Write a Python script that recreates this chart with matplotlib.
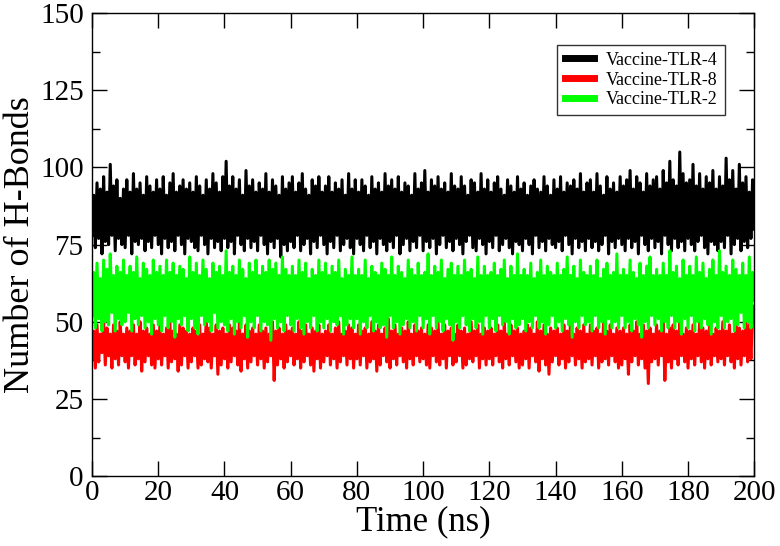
import numpy as np
import matplotlib
matplotlib.use("Agg")
import matplotlib.pyplot as plt
from matplotlib.ticker import MultipleLocator

# H-bond counts, one value every 0.5 ns
tlr4 = [
    78,91,74,95,77,93,72,97,76,92,75,101,78,94,73,96,77,90,75,93,
    74,96,78,92,72,98,76,93,75,95,77,91,73,97,76,94,74,92,78,96,
    75,93,72,97,77,91,74,95,76,98,73,92,78,94,75,96,72,93,77,95,
    76,92,74,97,73,94,78,91,75,96,72,93,77,98,74,95,76,92,73,97,
    77,102,74,94,76,97,72,93,78,96,75,91,73,99,77,94,74,96,76,92,
    73,95,78,93,75,98,72,92,76,96,74,94,77,91,71,97,75,93,73,95,
    76,97,74,92,78,95,73,98,75,93,77,91,72,96,76,94,74,97,78,92,
    75,94,72,97,76,92,74,95,78,93,73,96,75,91,77,98,74,93,72,96,
    77,92,75,96,73,94,78,91,74,97,76,93,72,95,77,92,75,98,73,94,
    76,96,74,93,78,97,72,92,75,95,77,94,73,91,76,98,74,93,78,95,
    73,99,76,92,74,96,77,94,72,97,75,93,78,95,74,92,76,98,73,94,
    77,93,75,97,72,94,76,91,78,96,74,95,73,92,77,98,75,93,72,96,
    76,92,74,95,78,97,73,93,75,91,77,96,74,94,72,92,76,97,75,93,
    73,95,77,91,75,94,72,96,78,93,74,92,76,97,73,94,77,91,75,96,
    74,93,76,97,73,92,78,95,75,94,72,96,77,93,74,98,76,92,73,95,
    77,96,74,92,76,98,73,94,75,91,78,97,72,93,76,95,74,92,77,97,
    75,94,73,96,77,99,74,93,76,97,72,95,78,92,75,98,73,94,77,96,
    74,97,76,93,72,99,78,95,75,102,73,96,77,94,74,105,76,98,73,95,
    77,96,75,101,73,94,76,98,78,93,74,97,72,95,76,99,75,93,73,97,
    76,94,74,103,78,96,72,99,75,93,77,101,73,95,76,97,74,92,77,96,
    80,
]

tlr8 = [
    38,47,35,49,37,46,40,50,36,48,39,46,35,49,38,47,36,50,39,46,
    37,48,35,47,39,49,36,46,38,50,34,47,37,48,39,46,36,49,35,47,
    38,49,36,46,39,48,35,50,37,47,38,46,34,49,36,48,39,47,35,46,
    37,48,39,47,35,49,36,46,38,51,37,48,35,46,39,49,33,47,36,48,
    38,46,35,49,37,48,39,47,36,50,34,46,38,49,35,47,37,48,39,46,
    36,49,38,47,35,48,37,46,39,50,31,47,36,48,38,46,35,49,37,47,
    39,48,36,46,38,50,35,47,37,49,39,46,36,48,34,47,38,49,35,46,
    37,47,39,49,36,46,38,48,35,50,37,46,39,47,36,49,38,48,35,46,
    38,49,36,47,39,48,35,46,37,50,38,47,34,49,36,46,39,48,37,51,
    35,47,38,49,36,46,39,48,37,47,35,50,38,46,36,49,39,47,37,48,
    38,46,36,49,35,48,39,47,37,50,36,46,38,49,35,47,39,48,36,46,
    37,49,39,47,35,48,36,46,38,50,37,47,39,49,35,46,38,48,36,47,
    38,48,36,46,39,49,37,47,35,50,38,46,36,49,39,47,37,48,35,46,
    36,47,38,49,35,48,39,46,37,50,34,47,38,49,36,46,33,48,37,47,
    39,48,36,46,38,49,35,47,37,50,39,46,36,48,38,47,35,49,37,46,
    38,49,36,47,39,48,35,46,37,50,38,47,36,49,39,46,37,48,35,47,
    36,48,38,46,33,49,37,47,39,50,36,46,38,49,35,47,30,48,37,46,
    38,49,36,47,39,50,31,46,37,48,35,49,38,47,36,50,39,46,37,48,
    35,47,38,49,36,46,39,50,37,48,35,47,38,49,36,46,39,48,37,47,
    38,50,36,47,39,49,37,46,35,51,38,48,36,47,39,50,37,49,38,52,
    55,
]

tlr2 = [
    52,66,48,69,51,64,47,70,50,67,49,72,53,65,47,68,51,66,49,70,
    50,65,53,68,47,66,51,71,49,64,52,69,48,67,50,65,46,70,51,66,
    49,68,47,65,52,70,48,66,50,69,45,65,51,68,49,67,52,64,47,71,
    51,66,48,69,46,65,52,70,49,67,50,64,47,69,53,66,48,68,50,65,
    49,73,47,66,51,68,46,65,50,70,48,67,52,64,45,69,50,66,48,70,
    52,65,47,68,50,66,49,70,44,67,51,69,48,65,50,71,47,67,52,65,
    49,68,47,65,51,70,48,66,46,69,50,64,48,67,52,65,47,70,50,66,
    48,69,51,65,47,68,50,66,49,70,52,64,46,67,49,65,51,71,48,65,
    51,67,46,65,50,70,48,64,52,68,47,66,50,65,48,69,49,67,45,65,
    52,71,48,65,50,68,46,66,49,64,51,70,48,67,50,65,47,69,52,65,
    48,66,51,72,46,65,52,68,48,66,50,70,47,64,51,67,49,69,44,65,
    50,68,48,65,52,70,49,66,47,67,51,64,48,71,50,65,46,68,52,65,
    48,66,51,69,47,65,52,67,49,70,50,64,46,68,51,65,48,72,49,65,
    51,67,47,65,50,69,48,64,52,66,48,70,50,65,46,68,49,66,52,65,
    48,69,50,65,47,67,51,71,49,65,45,68,50,64,48,70,52,66,49,65,
    50,68,47,65,52,70,48,64,50,67,46,69,51,65,48,66,50,72,48,65,
    52,67,48,65,50,70,47,66,51,64,49,69,45,65,50,68,48,71,52,65,
    49,67,51,65,47,69,50,65,48,73,52,66,48,68,50,64,46,70,51,65,
    48,68,52,65,47,71,50,66,48,69,51,64,49,67,46,70,50,65,48,73,
    52,66,48,68,50,65,51,70,47,67,49,65,53,69,48,65,50,71,48,66,
    57,
]

time_ns = np.linspace(0, 200, len(tlr4))

plt.rcParams['font.family'] = ['Liberation Serif', 'DejaVu Serif']

fig = plt.figure(figsize=(7.8, 5.46), dpi=100)
ax = fig.add_axes([0.118, 0.128, 0.849, 0.848])

ax.plot(time_ns, tlr4, color='black', lw=2.2, label='Vaccine-TLR-4')
ax.plot(time_ns, tlr8, color='#ff0000', lw=2.2, label='Vaccine-TLR-8')
ax.plot(time_ns, tlr2, color='#00ff00', lw=2.2, label='Vaccine-TLR-2')

ax.set_xlim(0, 200)
ax.set_ylim(0, 150)
ax.xaxis.set_major_locator(MultipleLocator(20))
ax.yaxis.set_major_locator(MultipleLocator(25))
ax.yaxis.set_minor_locator(MultipleLocator(12.5))
ax.tick_params(which='both', direction='in', top=True, right=True,
               width=1.0, labelsize=21)
ax.tick_params(axis='y', pad=6)
ax.tick_params(axis='x', pad=3)
ax.tick_params(which='major', length=11)
ax.tick_params(which='minor', length=6)
for sp in ax.spines.values():
    sp.set_linewidth(1.0)

ax.set_xlabel('Time (ns)', fontsize=25, labelpad=-1)
ax.set_ylabel('Number of H-Bonds', fontsize=26, labelpad=2)

leg = ax.legend(loc='upper right', bbox_to_anchor=(0.956, 0.932),
                fontsize=13, frameon=True, fancybox=False,
                handlelength=1.6, handletextpad=0.7, labelspacing=0.15,
                borderpad=0.4, borderaxespad=0)
leg.get_frame().set_edgecolor('black')
leg.get_frame().set_linewidth(1.0)
for line in leg.get_lines():
    line.set_linewidth(5)

fig.savefig('out.png', dpi=100)
